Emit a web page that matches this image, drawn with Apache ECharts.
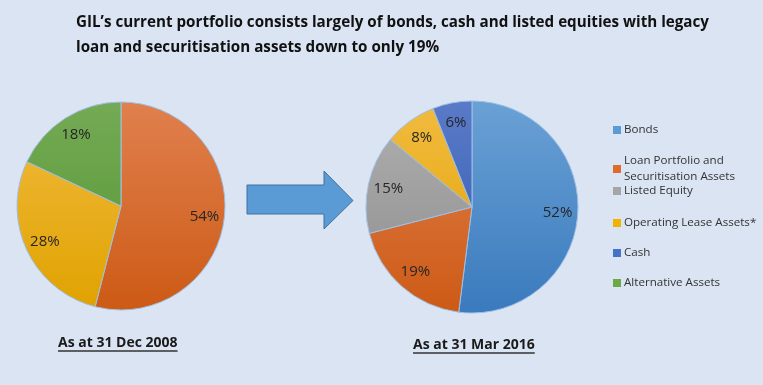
<!DOCTYPE html>
<html><head><meta charset="utf-8">
<script src="https://cdn.jsdelivr.net/npm/echarts@6/dist/echarts.min.js"></script>
<style>html,body{margin:0;padding:0;background:#dbe4f3}#c{width:763px;height:385px}</style>
</head><body><div id="c"></div>
<script>
// ---- data ----
const categories = ['Bonds', 'Loan Portfolio and\nSecuritisation Assets', 'Listed Equity', 'Operating Lease Assets*', 'Cash', 'Alternative Assets'];
const dec2008Names = ['Loan Portfolio and\nSecuritisation Assets', 'Operating Lease Assets*', 'Alternative Assets'];
const dec2008Values = [54, 28, 18];
const mar2016Names = ['Bonds', 'Loan Portfolio and\nSecuritisation Assets', 'Listed Equity', 'Operating Lease Assets*', 'Cash'];
const mar2016Values = [52, 19, 15, 8, 6];
const titleLines = ['GIL\u2019s current portfolio consists largely of bonds, cash and listed equities with legacy', 'loan and securitisation assets down to only 19%'];
const subtitles = ['As at 31 Dec 2008', 'As at 31 Mar 2016'];

// ---- styles ----
const FONT = "'Open Sans', sans-serif";
const flatColors = ['#5b9bd5', '#e06a2a', '#a5a5a5', '#f0b400', '#4472c4', '#6aa943'];
const gradColors = [
  ['#6aa1d5', '#3a7abd'],
  ['#e0804e', '#cd5a15'],
  ['#b0b0b0', '#8c8c8c'],
  ['#f2bb40', '#e0a200'],
  ['#5a7ac8', '#2f5bb0'],
  ['#74aa55', '#559530']
];

function grad(name, center, r) {
  const i = categories.indexOf(name);
  return new echarts.graphic.LinearGradient(center[0], center[1] - r, center[0], center[1] + r,
    [{offset: 0, color: gradColors[i][0]}, {offset: 1, color: gradColors[i][1]}], true);
}

function pies(names, values, center, r) {
  const main = {
    type: 'pie', center: center, radius: r, startAngle: 90, clockwise: true,
    animation: false, silent: true,
    label: {show: false}, labelLine: {show: false},
    itemStyle: {borderColor: '#9ec0e6', borderWidth: 1},
    emphasis: {disabled: true},
    data: names.map((n, i) => ({name: n, value: values[i], itemStyle: {color: grad(n, center, r)}}))
  };
  const overlay = {
    type: 'pie', center: center, radius: [r * 0.56, r], startAngle: 90, clockwise: true,
    animation: false, silent: true, legendHoverLink: false,
    itemStyle: {color: 'rgba(0,0,0,0)', borderWidth: 0},
    emphasis: {disabled: true},
    label: {show: true, position: 'inside', formatter: '{c}%', fontSize: 15, color: '#262626', fontFamily: FONT},
    labelLine: {show: false},
    data: names.map((n, i) => ({name: n, value: values[i]}))
  };
  return [main, overlay];
}

const c1 = [121, 206], r1 = 104;
const c2 = [472, 207], r2 = 106;

const legendCenters = [130, 169, 191, 223, 253, 283];
const legends = categories.map((n, i) => {
  const lines = n.split('\n').length;
  const h = 16 * lines;
  return {
    left: 613, top: legendCenters[i] - h / 2, orient: 'vertical', padding: 0,
    itemWidth: 8, itemHeight: 8, itemGap: 0, selectedMode: false, icon: 'rect',
    data: [{name: n, itemStyle: {color: flatColors[i], borderWidth: 0}}],
    textStyle: {fontSize: 11.6, lineHeight: 16, color: '#333', fontFamily: FONT, padding: [0, 0, 0, -2]}
  };
});

function textWidth(t, font) {
  const cv = document.createElement('canvas').getContext('2d');
  cv.font = font;
  return cv.measureText(t).width;
}
const subFont = 'bold 14px ' + FONT;
const subPos = [[58, 344], [413, 346]];
const subGraphics = [];
subtitles.forEach((t, i) => {
  const w = textWidth(t, subFont);
  subGraphics.push({type: 'text', left: subPos[i][0], top: subPos[i][1] - 8,
    style: {text: t, font: subFont, fill: '#1a1a1a'}});
  subGraphics.push({type: 'line', shape: {x1: subPos[i][0], y1: subPos[i][1] + 7, x2: subPos[i][0] + w, y2: subPos[i][1] + 7},
    style: {stroke: '#333', lineWidth: 1.3}});
});

const chart = echarts.init(document.getElementById('c'), null, {renderer: 'canvas'});
chart.setOption({
  backgroundColor: '#dbe4f3',
  animation: false,
  title: {
    text: titleLines.join('\n'), left: 76, top: 10, padding: 0,
    textStyle: {fontSize: 15.2, fontWeight: 'bold', lineHeight: 25, color: '#111', fontFamily: FONT}
  },
  legend: legends,
  graphic: [
    {type: 'polygon', shape: {points: [[247, 185], [324, 185], [324, 171], [353, 200.5], [324, 229], [324, 214], [247, 214]]},
     style: {fill: '#5b9bd5', stroke: '#41719c', lineWidth: 1}},
    ...subGraphics
  ],
  series: [...pies(dec2008Names, dec2008Values, c1, r1), ...pies(mar2016Names, mar2016Values, c2, r2)]
});
</script></body></html>
